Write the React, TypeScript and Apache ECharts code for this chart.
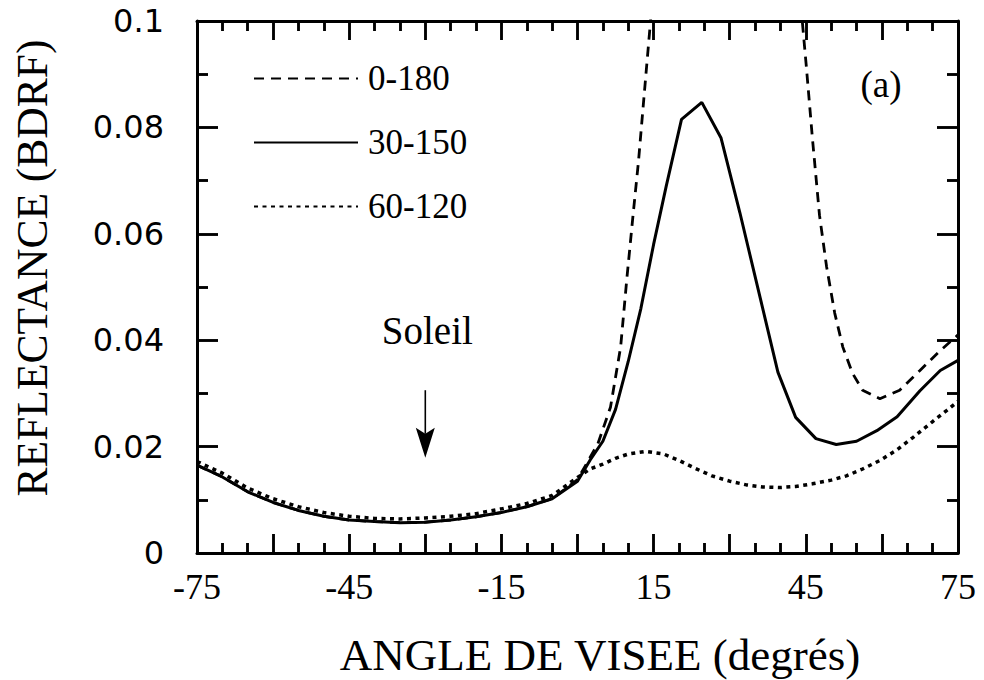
import React, { useEffect, useRef } from "react";
import * as echarts from "echarts";

const SERIES_NAMES = ["0-180", "30-150", "60-120"];

const ANGLES_0_180 = [-75, -70, -65, -60, -55, -50, -45, -40, -35, -30, -25, -20, -15, -10, -5, 0, 2.5, 4, 6.5, 8.5, 9.7, 11, 12, 13.4, 14.4, 16, 20, 30, 40, 43, 44.3, 45.1, 46.3, 47.7, 49.1, 50.7, 52.3, 54.2, 56.2, 59.6, 63.5, 67.5, 71.1, 75];
const REFL_0_180 = [0.0165, 0.0143, 0.0115, 0.0095, 0.008, 0.0069, 0.0062, 0.0059, 0.0057, 0.0058, 0.0062, 0.0068, 0.0076, 0.0087, 0.0102, 0.0138, 0.018, 0.0205, 0.0274, 0.0387, 0.0513, 0.064, 0.0734, 0.089, 0.1, 0.125, 0.18, 0.22, 0.16, 0.115, 0.1, 0.0915, 0.078, 0.0635, 0.0538, 0.0451, 0.0387, 0.0338, 0.0306, 0.029, 0.0306, 0.0343, 0.0377, 0.041];

const ANGLES_30_150 = [-75, -70, -65, -60, -55, -50, -45, -40, -35, -30, -25, -20, -15, -10, -5, 0, 2.5, 5, 7.5, 10, 12.5, 15, 17.5, 20.5, 24.5, 28.3, 32, 36, 39.5, 43, 47, 51, 55, 59, 63, 67.5, 71.5, 75];
const REFL_30_150 = [0.0165, 0.0143, 0.0115, 0.0095, 0.008, 0.0069, 0.0062, 0.0059, 0.0057, 0.0058, 0.0062, 0.0068, 0.0076, 0.0087, 0.0102, 0.0135, 0.0175, 0.021, 0.027, 0.036, 0.046, 0.058, 0.069, 0.0815, 0.0847, 0.078, 0.064, 0.048, 0.034, 0.0255, 0.0215, 0.0204, 0.021, 0.023, 0.0256, 0.0305, 0.0343, 0.0362];

const ANGLES_60_120 = [-75, -70, -65, -60, -55, -50, -45, -40, -35, -30, -25, -20, -15, -10, -5, 0, 2.5, 5, 7.5, 10, 13.5, 17, 20, 23, 26.5, 30, 33.3, 36.5, 39.8, 43, 46.3, 50, 53, 56, 59.6, 63, 66.1, 70, 72.8, 75];
const REFL_60_120 = [0.0172, 0.015, 0.0122, 0.0102, 0.0087, 0.0076, 0.0069, 0.0065, 0.0064, 0.0066, 0.0069, 0.0074, 0.0083, 0.0093, 0.0108, 0.0142, 0.0158, 0.0167, 0.0178, 0.0186, 0.0191, 0.0186, 0.0174, 0.016, 0.0145, 0.0135, 0.0128, 0.0124, 0.0123, 0.0125, 0.013, 0.0137, 0.0145, 0.0157, 0.0174, 0.0194, 0.0217, 0.0247, 0.0268, 0.0285];

const X_TICK_LABELS = ["-75", "-45", "-15", "15", "45", "75"];
const Y_TICK_LABELS = ["0", "0.02", "0.04", "0.06", "0.08", "0.1"];

// tick marks (axis values) drawn inside the frame on all four sides
const X_MAJOR_TICKS = [-60, -45, -30, -15, 0, 15, 30, 45, 60];
const X_MINOR_TICKS = [-70, -65, -55, -50, -40, -35, -25, -20, -10, -5, 5, 10, 20, 25, 35, 40, 50, 55, 65, 70];
const Y_MAJOR_TICKS = [0.02, 0.04, 0.06, 0.08];
const Y_MINOR_TICKS = [0.01, 0.03, 0.05, 0.07, 0.09];

const SUN_ANGLE = -30;
const SUN_ARROW_TOP = 0.0306;
const SUN_ARROW_TIP = 0.0179;
const SUN_LABEL_Y = 0.0419;

const X_TITLE = "ANGLE DE VISEE (degrés)";
const Y_TITLE = "REFLECTANCE (BDRF)";
const PANEL_LABEL = "(a)";
const SUN_LABEL = "Soleil";

const SERIF = "Liberation Serif";
const SANS = "DejaVu Sans";

const X_MIN = -75;
const X_MAX = 75;
const Y_MIN = 0;
const Y_MAX = 0.1;

function pairs(xs: number[], ys: number[]) {
  return xs.map((x, i) => [x, ys[i]]);
}

function axLine() {
  return { show: true, onZero: false, lineStyle: { color: "#000", width: 3 } };
}

export default function App() {
  const ref = useRef<HTMLDivElement>(null);

  useEffect(() => {
    if (!ref.current) return;
    const chart = echarts.init(ref.current, null, { renderer: "svg" });

    const xFormatter = (v: number) => {
      const s = String(Math.round(v));
      return X_TICK_LABELS.includes(s) ? s : "";
    };
    const yFormatter = (v: number) => Y_TICK_LABELS[Math.round(v / 0.02)] ?? "";

    // tick segments in data units (pixel lengths converted through the axis spans)
    const plotW = 761;
    const plotH = 532;
    const dx = (px: number) => (px / plotW) * (X_MAX - X_MIN);
    const dy = (px: number) => (px / plotH) * (Y_MAX - Y_MIN);
    const tickSegs: any[] = [];
    const xTick = (v: number, len: number) => {
      tickSegs.push({ coords: [[v, Y_MIN], [v, Y_MIN + dy(len)]] });
      tickSegs.push({ coords: [[v, Y_MAX], [v, Y_MAX - dy(len)]] });
    };
    const yTick = (v: number, len: number) => {
      tickSegs.push({ coords: [[X_MIN, v], [X_MIN + dx(len), v]] });
      tickSegs.push({ coords: [[X_MAX, v], [X_MAX - dx(len), v]] });
    };
    X_MAJOR_TICKS.forEach((v) => xTick(v, 19));
    X_MINOR_TICKS.forEach((v) => xTick(v, 10));
    Y_MAJOR_TICKS.forEach((v) => yTick(v, 21));
    Y_MINOR_TICKS.forEach((v) => yTick(v, 11));

    const xAxisCommon = {
      type: "value",
      min: X_MIN,
      max: X_MAX,
      interval: 15,
      axisLine: axLine(),
      axisTick: { show: true, inside: true, length: 19, lineStyle: { color: "#000", width: 2.5 } },
      minorTick: { show: true, splitNumber: 3, length: 10, lineStyle: { color: "#000", width: 2.5 } },
      splitLine: { show: false },
      minorSplitLine: { show: false },
    };
    const yAxisCommon = {
      type: "value",
      min: Y_MIN,
      max: Y_MAX,
      interval: 0.02,
      axisLine: axLine(),
      axisTick: { show: true, inside: true, length: 21, lineStyle: { color: "#000", width: 2.5 } },
      minorTick: { show: true, splitNumber: 2, length: 11, lineStyle: { color: "#000", width: 2.5 } },
      splitLine: { show: false },
      minorSplitLine: { show: false },
    };

    chart.setOption({
      animation: false,
      backgroundColor: "#fff",
      grid: { left: 197, right: 26, top: 21, bottom: 127, containLabel: false },
      legend: {
        show: true,
        orient: "vertical",
        left: 253,
        top: 61,
        padding: 0,
        itemWidth: 104,
        itemHeight: 20,
        itemGap: 29,
        selectedMode: false,
        itemStyle: { opacity: 0 },
        textStyle: { fontFamily: SERIF, fontSize: 35, color: "#000", lineHeight: 34, padding: [0, 0, 0, 5] },
        data: SERIES_NAMES,
      },
      xAxis: [
        {
          ...xAxisCommon,
          position: "bottom",
          axisLabel: {
            show: true,
            formatter: xFormatter,
            showMinLabel: true,
            showMaxLabel: true,
            fontFamily: SERIF,
            fontSize: 36,
            color: "#000",
            margin: 16,
          },
        },
        { ...xAxisCommon, position: "top", axisLabel: { show: false } },
      ],
      yAxis: [
        {
          ...yAxisCommon,
          position: "left",
          axisLabel: {
            show: true,
            formatter: yFormatter,
            showMinLabel: true,
            showMaxLabel: true,
            fontFamily: SANS,
            fontSize: 32,
            color: "#000",
            margin: 33,
          },
        },
        { ...yAxisCommon, position: "right", axisLabel: { show: false } },
      ],
      series: [
        {
          name: SERIES_NAMES[0],
          type: "line",
          xAxisIndex: 0,
          yAxisIndex: 0,
          data: pairs(ANGLES_0_180, REFL_0_180),
          symbol: "none",
          clip: true,
          lineStyle: { color: "#000", width: 2.8, type: [10, 7] },
          itemStyle: { color: "#000" },
        },
        {
          name: SERIES_NAMES[1],
          type: "line",
          xAxisIndex: 0,
          yAxisIndex: 0,
          data: pairs(ANGLES_30_150, REFL_30_150),
          symbol: "none",
          clip: true,
          lineStyle: { color: "#000", width: 3 },
          itemStyle: { color: "#000" },
        },
        {
          name: SERIES_NAMES[2],
          type: "line",
          xAxisIndex: 0,
          yAxisIndex: 0,
          data: pairs(ANGLES_60_120, REFL_60_120),
          symbol: "none",
          clip: true,
          lineStyle: { color: "#000", width: 3.5, type: [4, 4.5], cap: "butt" },
          itemStyle: { color: "#000" },
        },
        {
          name: "axis ticks",
          type: "lines",
          coordinateSystem: "cartesian2d",
          xAxisIndex: 0,
          yAxisIndex: 0,
          polyline: false,
          silent: true,
          z: 6,
          symbol: ["none", "none"],
          lineStyle: { color: "#000", width: 2.5, opacity: 1, curveness: 0 },
          data: tickSegs,
        },
      ],
    });

    const toPx = (x: number, y: number) => chart.convertToPixel({ gridIndex: 0 }, [x, y]) as number[];

    const [sx, sTop] = toPx(SUN_ANGLE, SUN_ARROW_TOP);
    const [, sTip] = toPx(SUN_ANGLE, SUN_ARROW_TIP);
    const [, sLabel] = toPx(SUN_ANGLE, SUN_LABEL_Y);

    chart.setOption({
      graphic: [
        {
          type: "text",
          x: 600,
          y: 655,
          style: { text: X_TITLE, font: `45px "${SERIF}"`, fill: "#000", align: "center", verticalAlign: "middle" },
        },
        {
          type: "text",
          x: 32,
          y: 268,
          rotation: Math.PI / 2,
          style: { text: Y_TITLE, font: `43.5px "${SERIF}"`, fill: "#000", align: "center", verticalAlign: "middle" },
        },
        {
          type: "text",
          x: 881,
          y: 84,
          style: { text: PANEL_LABEL, font: `37px "${SERIF}"`, fill: "#000", align: "center", verticalAlign: "middle" },
        },
        {
          type: "text",
          x: sx + 2,
          y: sLabel,
          style: { text: SUN_LABEL, font: `39px "${SERIF}"`, fill: "#000", align: "center", verticalAlign: "middle" },
        },
        {
          type: "line",
          shape: { x1: sx, y1: sTop, x2: sx, y2: sTip - 24 },
          style: { stroke: "#000", lineWidth: 1.6 },
        },
        {
          type: "polygon",
          shape: {
            points: [
              [sx - 9.5, sTip - 30],
              [sx, sTip - 24],
              [sx + 9.5, sTip - 30],
              [sx, sTip],
            ],
          },
          style: { fill: "#000", stroke: "none" },
        },
      ],
    });

    return () => chart.dispose();
  }, []);

  return (
    <div
      ref={ref}
      style={{ position: "absolute", left: 0, top: 0, width: 984, height: 680, background: "#fff" }}
    />
  );
}
